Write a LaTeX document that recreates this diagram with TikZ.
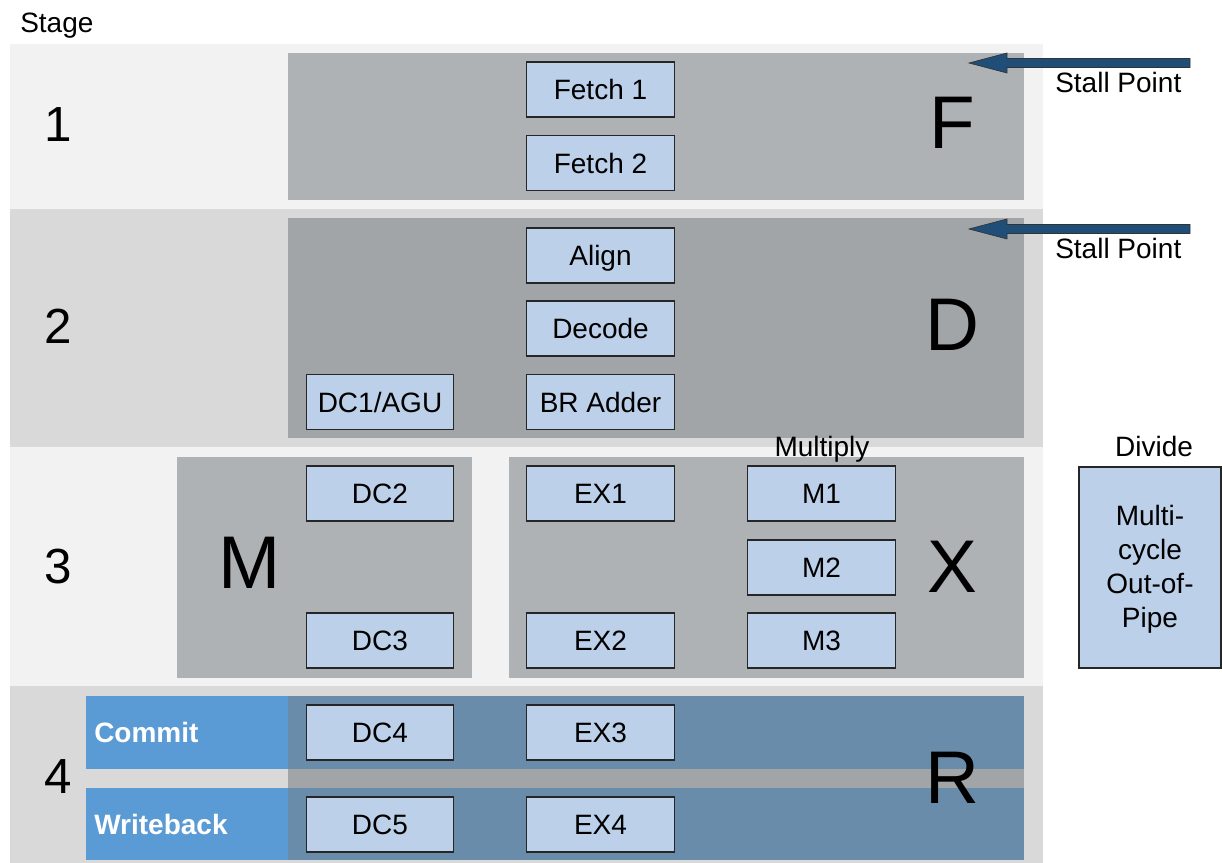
\documentclass[tikz,border=0pt]{standalone}
\usepackage{fontspec}
\setmainfont{Liberation Sans}
\definecolor{bandA}{HTML}{F2F2F2}
\definecolor{bandB}{HTML}{D9D9D9}
\definecolor{grpA}{HTML}{AFB2B5}
\definecolor{grpB}{HTML}{A2A5A8}
\definecolor{boxblue}{HTML}{BDD0E9}
\definecolor{commitblue}{HTML}{5B9BD5}
\definecolor{rblue}{HTML}{6A8CAB}
\definecolor{arrowblue}{HTML}{1F4E79}
\tikzset{
  blk/.style={draw=black!85, line width=0.8pt, fill=boxblue, inner sep=0pt,
    minimum width=110.5pt, minimum height=41.25pt, text height=15.3pt, text depth=0pt,
    font=\fontsize{21}{25}\selectfont},
  big/.style={font=\fontsize{56}{60}\selectfont, inner sep=0pt},
  num/.style={font=\fontsize{37}{40}\selectfont, inner sep=0pt},
  lbl/.style={font=\fontsize{21}{25}\selectfont, inner sep=0pt},
  wlbl/.style={font=\bfseries\fontsize{21}{25}\selectfont, text=white, inner sep=0pt, anchor=west},
  stall/.style={fill=arrowblue, draw=black!80, line width=0.5pt, line join=miter}
}
\begin{document}
\begin{tikzpicture}[x=0.75pt,y=-0.75pt]
\useasboundingbox (0,0) rectangle (1222,863);
% stage bands
\fill[bandA] (10,44) rectangle (1043,209);
\fill[bandB] (10,209) rectangle (1043,447);
\fill[bandA] (10,447) rectangle (1043,686);
\fill[bandB] (10,686) rectangle (1043,863);
% group boxes
\fill[grpA] (288,53) rectangle (1024,200);
\fill[grpB] (288,218) rectangle (1024,438);
\fill[grpA] (177,457) rectangle (472,678);
\fill[grpA] (509,457) rectangle (1024,678);
\fill[grpB] (288,696) rectangle (1024,860);
\fill[commitblue] (86,696) rectangle (288,769);
\fill[rblue] (288,696) rectangle (1024,769);
\fill[commitblue] (86,788) rectangle (288,860);
\fill[rblue] (288,788) rectangle (1024,860);
% labels
\node[lbl, anchor=west, text depth=0pt] (stage) at (20,23) {Stage};
\node[num] (n1) at (58,125) {1};
\node[num] (n2) at (58,326) {2};
\node[num] (n3) at (58,567) {3};
\node[num] (n4) at (58,777) {4};
\node[big] (F) at (952,123) {F};
\node[big] (D) at (952,325) {D};
\node[big] (M) at (250,563) {M};
\node[big] (X) at (952,567) {X};
\node[big] (R) at (952,778) {R};
\node[wlbl] (commit) at (94,732) {Commit};
\node[wlbl] (wb) at (94,824) {Writeback};
% stage 1
\node[blk] (f1) at (600.5,89.5) {Fetch 1};
\node[blk] (f2) at (600.5,163) {Fetch 2};
% stage 2
\node[blk] (al) at (600.5,255.5) {Align};
\node[blk] (de) at (600.5,328.5) {Decode};
\node[blk] (br) at (600.5,402) {BR Adder};
\node[blk] (dc1) at (380,402) {DC1/AGU};
% stage 3
\node[blk] (dc2) at (380,493.5) {DC2};
\node[blk] (dc3) at (380,640.5) {DC3};
\node[blk] (ex1) at (600.5,493.5) {EX1};
\node[blk] (ex2) at (600.5,640.5) {EX2};
\node[blk] (m1) at (821.5,493.5) {M1};
\node[blk] (m2) at (821.5,567.5) {M2};
\node[blk] (m3) at (821.5,640.5) {M3};
\node[lbl, text depth=0pt] (mul) at (822,446) {Multiply};
\node[lbl] (div) at (1154,446) {Divide};
\node[blk, minimum width=106.5pt, minimum height=150.75pt] (dv) at (1150,567.5) {};
\node[lbl, align=center, font=\fontsize{21}{25.5}\selectfont] (dvt) at (1150,569.5) {Multi-\\cycle\\Out-of-\\Pipe};
% stage 4
\node[blk] (dc4) at (380,732.5) {DC4};
\node[blk] (ex3) at (600.5,732.5) {EX3};
\node[blk] (dc5) at (380,824.5) {DC5};
\node[blk] (ex4) at (600.5,824.5) {EX4};
% stall points
\node[lbl, anchor=west] (sp1) at (1055,82) {Stall Point};
\node[lbl, anchor=west] (sp2) at (1055,248) {Stall Point};
\draw[stall] (969,63) -- (1007,53) -- (1007,58.5) -- (1190,58.5) -- (1190,67.5) -- (1007,67.5) -- (1007,73) -- cycle;
\draw[stall] (969,229) -- (1007,219) -- (1007,224.5) -- (1190,224.5) -- (1190,233.5) -- (1007,233.5) -- (1007,239) -- cycle;
\end{tikzpicture}
\end{document}
